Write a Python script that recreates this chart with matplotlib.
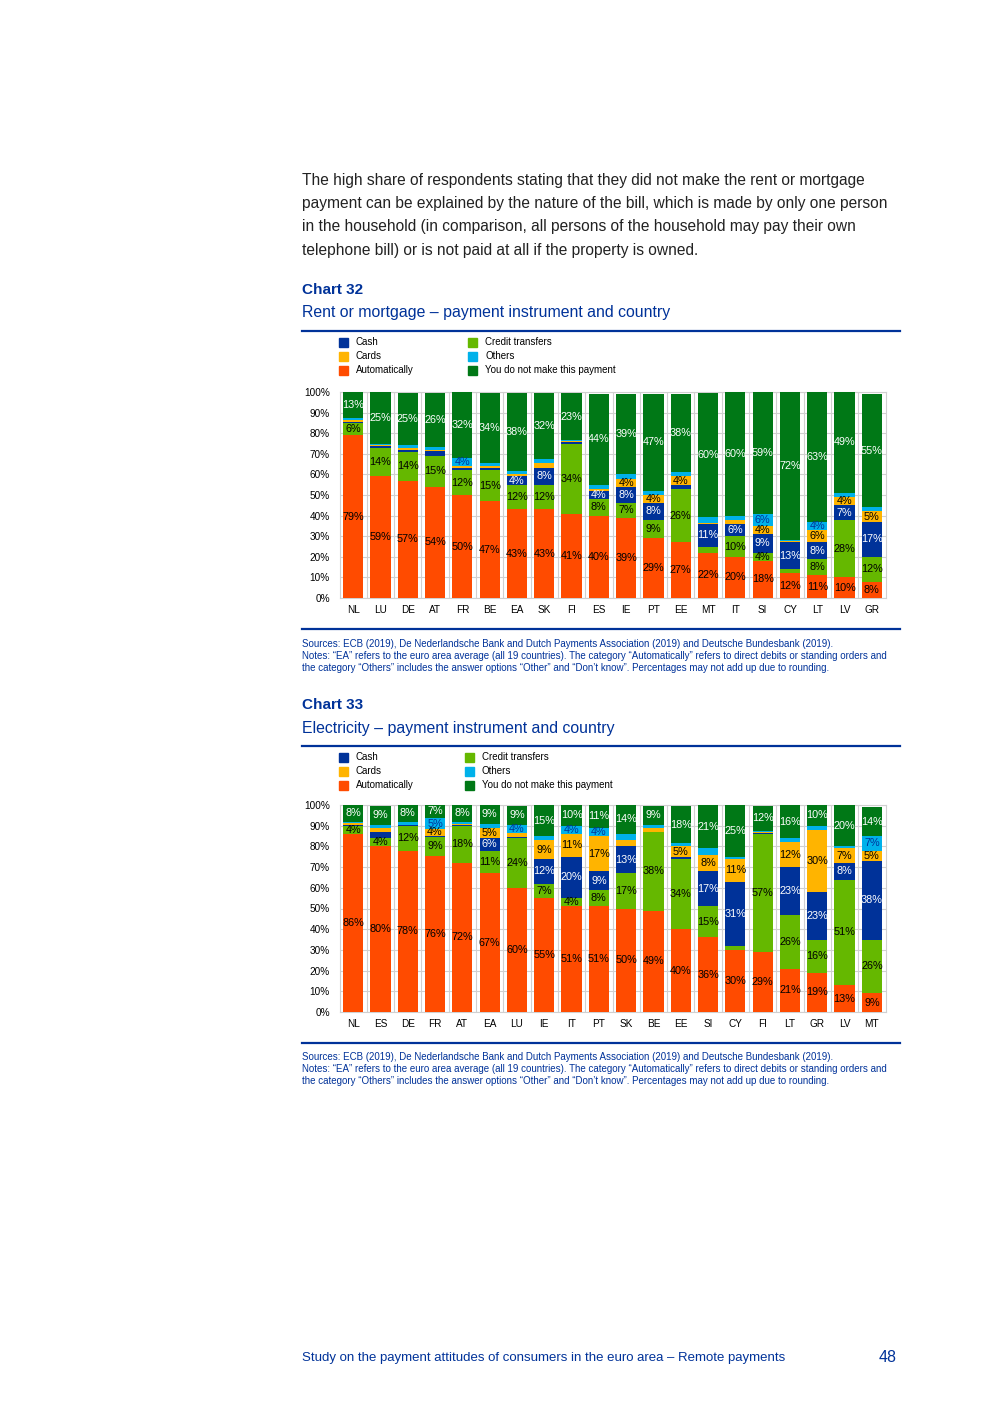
import matplotlib
matplotlib.use('Agg')
import matplotlib.pyplot as plt
from matplotlib.patches import Rectangle

plt.rcParams['font.family'] = ['Liberation Sans', 'DejaVu Sans']

# series colours (ECB palette)
C_CASH = '#003299'
C_CARDS = '#FFB400'
C_AUTO = '#FF4B00'
C_CT = '#65B800'
C_OTH = '#00B1EA'
C_NONE = '#007816'
BLUE = '#003299'

series_names = ['Automatically', 'Credit transfers', 'Cash', 'Cards', 'Others',
                'You do not make this payment']

# Chart 32 - rent or mortgage
countries32 = ['NL', 'LU', 'DE', 'AT', 'FR', 'BE', 'EA', 'SK', 'FI', 'ES',
               'IE', 'PT', 'EE', 'MT', 'IT', 'SI', 'CY', 'LT', 'LV', 'GR']
auto32 = [79, 59, 57, 54, 50, 47, 43, 43, 41, 40, 39, 29, 27, 22, 20, 18, 12, 11, 10, 8]
ct32 = [6, 14, 14, 15, 12, 15, 12, 12, 34, 8, 7, 9, 26, 3, 10, 4, 2, 8, 28, 12]
cash32 = [0.3, 1, 1, 2.5, 1, 1, 4, 8, 0.5, 4, 8, 8, 2, 11, 6, 9, 13, 8, 7, 17]
cards32 = [1, 0.5, 1, 0.5, 1, 1, 1, 2.5, 0.5, 1, 4, 4, 4, 0.5, 2, 4, 0.5, 6, 4, 5]
oth32 = [1, 0.5, 1.5, 1.5, 4, 1.5, 1.5, 2, 0.5, 2, 2, 2, 2, 3, 2, 6, 0.5, 4, 2, 2]
none32 = [13, 25, 25, 26, 32, 34, 38, 32, 23, 44, 39, 47, 38, 60, 60, 59, 72, 63, 49, 55]

# Chart 33 - electricity
countries33 = ['NL', 'ES', 'DE', 'FR', 'AT', 'EA', 'LU', 'IE', 'IT', 'PT',
               'SK', 'BE', 'EE', 'SI', 'CY', 'FI', 'LT', 'GR', 'LV', 'MT']
auto33 = [86, 80, 78, 75.5, 72, 67, 60, 55, 51, 51, 50, 49, 40, 36, 30, 29, 21, 19, 13, 9]
ct33 = [4, 4, 12, 9, 18, 11, 24, 7, 4, 8, 17, 38, 34, 15, 2, 57, 26, 16, 51, 26]
cash33 = [0.5, 3, 0.5, 0.5, 0.5, 6, 0.5, 12, 20, 9, 13, 0, 1, 17, 31, 0.5, 23, 23, 8, 38]
cards33 = [1, 2, 0, 3.5, 0.5, 5, 2, 9, 11, 17, 3, 2, 5, 8, 11, 0.5, 12, 30, 7, 5]
oth33 = [0.5, 1.5, 1.5, 5, 1, 2, 4, 2, 4, 4, 3, 1.5, 1.5, 3, 1, 0.5, 2, 2, 1, 7]
none33 = [8, 9, 8, 7, 8, 9, 9, 15, 10, 11, 14, 9, 18, 21, 25, 12, 16, 10, 20, 14]

W, H = 992, 1403


def fy(y):
    return 1 - y / H


def fx(x):
    return x / W


def stacked(ax, countries, data):
    colors = [C_AUTO, C_CT, C_CASH, C_CARDS, C_OTH, C_NONE]
    txtcol = ['black', 'black', 'white', 'black', BLUE, 'white']
    x = list(range(len(countries)))
    bottom = [0] * len(countries)
    for vals, col, tc in zip(data, colors, txtcol):
        ax.bar(x, vals, bottom=bottom, color=col, width=0.74, zorder=3)
        for i, v in enumerate(vals):
            if v >= 3.5:
                ax.text(i, bottom[i] + v / 2, '%.0f%%' % v, ha='center', va='center',
                        fontsize=7.8, color=tc, zorder=4)
        bottom = [b + v for b, v in zip(bottom, vals)]
    ax.set_xlim(-0.5, len(countries) - 0.5)
    ax.set_ylim(0, 100)
    ax.set_xticks(x)
    ax.set_xticklabels(countries, fontsize=7.2)
    ax.set_yticks(range(0, 101, 10))
    ax.set_yticklabels(['%d%%' % t for t in range(0, 101, 10)], fontsize=7.2)
    ax.set_xticks([i + 0.5 for i in x[:-1]], minor=True)
    ax.tick_params(length=0, which='both')
    ax.tick_params(axis='y', pad=7)
    ax.tick_params(axis='x', pad=5)
    ax.grid(True, axis='y', color='#D0D0D0', linewidth=0.8, zorder=0)
    ax.grid(True, axis='x', which='minor', color='#D0D0D0', linewidth=0.8, zorder=0)
    for s in ax.spines.values():
        s.set_color('#D0D0D0')
        s.set_linewidth(0.8)


def legend(fig, y0, x1, x2):
    items = [(x1, 0, C_CASH, 'Cash'), (x1, 1, C_CARDS, 'Cards'), (x1, 2, C_AUTO, 'Automatically'),
             (x2, 0, C_CT, 'Credit transfers'), (x2, 1, C_OTH, 'Others'),
             (x2, 2, C_NONE, 'You do not make this payment')]
    for x, row, col, name in items:
        y = y0 + row * 14
        fig.patches.append(Rectangle((fx(x), fy(y + 4.5)), 9 / W, 9 / H, color=col,
                                     transform=fig.transFigure, figure=fig))
        fig.text(fx(x + 17), fy(y), name, fontsize=7, va='center', color='black')


def notes(fig, y0):
    lines = ['Sources: ECB (2019), De Nederlandsche Bank and Dutch Payments Association (2019) and Deutsche Bundesbank (2019).',
             'Notes: \u201cEA\u201d refers to the euro area average (all 19 countries). The category \u201cAutomatically\u201d refers to direct debits or standing orders and',
             'the category \u201cOthers\u201d includes the answer options \u201cOther\u201d and \u201cDon\u2019t know\u201d. Percentages may not add up due to rounding.']
    for k, t in enumerate(lines):
        fig.text(fx(302), fy(y0 + k * 12), t, fontsize=7.0, va='center', color=BLUE)


fig = plt.figure(figsize=(W / 100, H / 100), dpi=100)

para = ['The high share of respondents stating that they did not make the rent or mortgage',
        'payment can be explained by the nature of the bill, which is made by only one person',
        'in the household (in comparison, all persons of the household may pay their own',
        'telephone bill) or is not paid at all if the property is owned.']
for k, t in enumerate(para):
    fig.text(fx(302), fy(180 + k * 23.5), t, fontsize=11.2, va='center', color='#222222')

# chart 32
fig.text(fx(302), fy(290), 'Chart 32', fontsize=11, fontweight='bold', color=BLUE, va='center')
fig.text(fx(302), fy(313), 'Rent or mortgage \u2013 payment instrument and country', fontsize=11.4,
         color=BLUE, va='center')
fig.add_artist(plt.Line2D([fx(302), fx(900)], [fy(331), fy(331)], color=BLUE, linewidth=1.6))
legend(fig, 342, 339, 468)
ax1 = fig.add_axes([fx(339.5), fy(598), 546 / W, 206 / H])
stacked(ax1, countries32, [auto32, ct32, cash32, cards32, oth32, none32])
fig.add_artist(plt.Line2D([fx(302), fx(900)], [fy(629), fy(629)], color=BLUE, linewidth=1.6))
notes(fig, 644)

# chart 33
fig.text(fx(302), fy(705), 'Chart 33', fontsize=11, fontweight='bold', color=BLUE, va='center')
fig.text(fx(302), fy(728), 'Electricity \u2013 payment instrument and country', fontsize=11.4,
         color=BLUE, va='center')
fig.add_artist(plt.Line2D([fx(302), fx(900)], [fy(746), fy(746)], color=BLUE, linewidth=1.6))
legend(fig, 757, 339, 465)
ax2 = fig.add_axes([fx(339.5), fy(1012), 546 / W, 207 / H])
stacked(ax2, countries33, [auto33, ct33, cash33, cards33, oth33, none33])
fig.add_artist(plt.Line2D([fx(302), fx(900)], [fy(1043), fy(1043)], color=BLUE, linewidth=1.6))
notes(fig, 1057)

# footer
fig.text(fx(302), fy(1358), 'Study on the payment attitudes of consumers in the euro area \u2013 Remote payments',
         fontsize=9.5, color=BLUE, va='center')
fig.text(fx(897), fy(1358), '48', fontsize=11.5, color=BLUE, va='center', ha='right')

fig.savefig('out.png', dpi=100)
